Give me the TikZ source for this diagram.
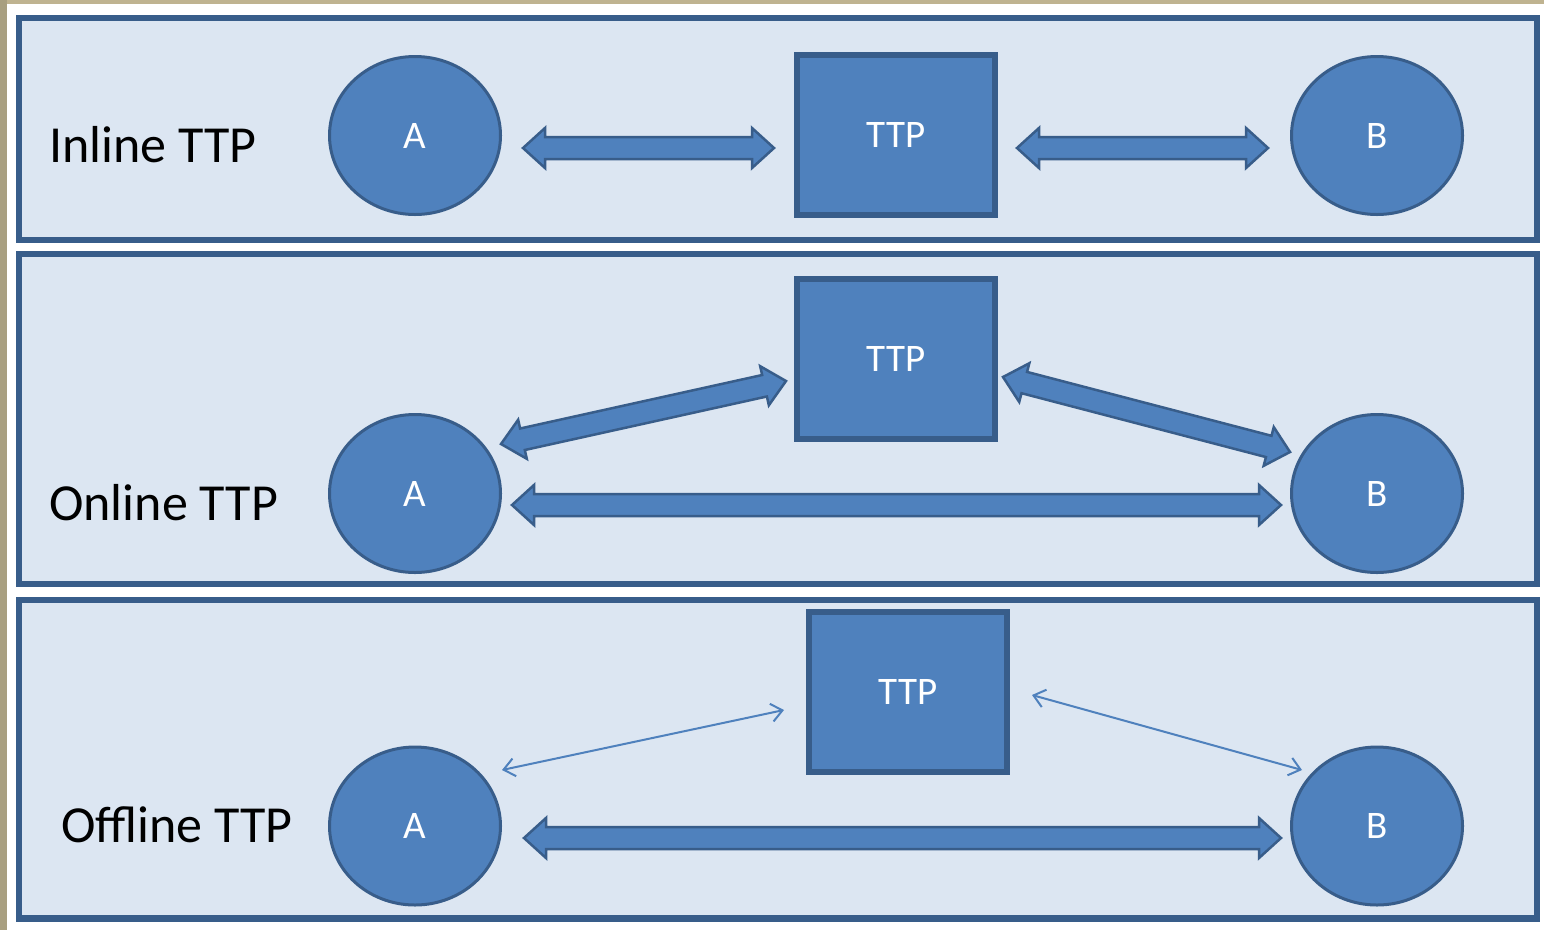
\documentclass[tikz,border=0pt]{standalone}
\usepackage{fontspec}
\setmainfont{Carlito}
\usetikzlibrary{shapes.geometric,calc,arrows.meta}
\definecolor{panelfill}{HTML}{DCE6F2}
\definecolor{bdr}{HTML}{385D8A}
\definecolor{shp}{HTML}{4F81BD}
\definecolor{tantop}{HTML}{BFB390}
\definecolor{tanleft}{HTML}{A89F80}
\tikzset{
  panel/.style={draw=bdr, fill=panelfill, line width=6.5pt},
  circ/.style={ellipse, draw=bdr, fill=shp, line width=3pt, minimum width=171pt,
    minimum height=158pt, inner sep=0pt, text=white, font=\fontsize{39}{46}\selectfont},
  ttpbox/.style={rectangle, draw=bdr, fill=shp, line width=6pt, minimum width=198pt,
    minimum height=160pt, inner sep=0pt, text=white, font=\fontsize{39}{46}\selectfont},
  rowlabel/.style={anchor=base west, inner sep=0pt, text=black, font=\fontsize{52}{60}\selectfont},
  blockarrow/.style={draw=bdr, fill=shp, line width=2.5pt, line join=miter,
    to path={let \p1=(\tikztostart), \p2=(\tikztotarget),
      \n1={atan2(\y2-\y1,\x2-\x1)} in
      -- ($(\p1)+(\n1:22pt)+({\n1+90}:20pt)$)
      -- ($(\p1)+(\n1:22pt)+({\n1+90}:11pt)$)
      -- ($(\p2)+({\n1+180}:22pt)+({\n1+90}:11pt)$)
      -- ($(\p2)+({\n1+180}:22pt)+({\n1+90}:20pt)$)
      -- (\p2)
      -- ($(\p2)+({\n1+180}:22pt)+({\n1-90}:20pt)$)
      -- ($(\p2)+({\n1+180}:22pt)+({\n1-90}:11pt)$)
      -- ($(\p1)+(\n1:22pt)+({\n1-90}:11pt)$)
      -- ($(\p1)+(\n1:22pt)+({\n1-90}:20pt)$)
      -- cycle}},
  thinarrow/.style={draw=shp, line width=2pt,
    {Straight Barb[length=11pt,width=18pt,line width=2pt]}-{Straight Barb[length=11pt,width=18pt,line width=2pt]}}
}
\begin{document}
\begin{tikzpicture}[x=1pt,y=-1pt]
\useasboundingbox (0,0) rectangle (1544,930);
\fill[white] (0,0) rectangle (1544,930);
\fill[tantop] (0,0) rectangle (1544,3.5);
\fill[tanleft] (0,0) rectangle (7,930);

% panels
\draw[panel] (19,18) rectangle (1537,240);
\draw[panel] (19,254) rectangle (1537,584);
\draw[panel] (19,600) rectangle (1537,918.5);

% row labels
\node[rowlabel] (l1) at (49,162) {Inline TTP};
\node[rowlabel] (l2) at (49,520) {Online TTP};
\node[rowlabel] (l3) at (61,842) {Offline TTP};

% panel 1
\node[circ] (A1) at (415,135.5) {A};
\node[circ] (B1) at (1377,135.5) {B};
\node[ttpbox] (T1) at (896,135) {TTP};
\coordinate (p1a) at (523,148);
\coordinate (p1b) at (774,148);
\coordinate (p1c) at (1017,148);
\coordinate (p1d) at (1268,148);
\draw[blockarrow] (p1a) to (p1b);
\draw[blockarrow] (p1c) to (p1d);

% panel 2
\node[circ] (A2) at (415,493.5) {A};
\node[circ] (B2) at (1377,493.5) {B};
\node[ttpbox] (T2) at (896,358.5) {TTP};
\coordinate (p2a) at (501,444);
\coordinate (p2b) at (786,381);
\coordinate (p2c) at (1003,377);
\coordinate (p2d) at (1290,452);
\coordinate (p2e) at (512,505);
\coordinate (p2f) at (1281,505);
\draw[blockarrow] (p2a) to (p2b);
\draw[blockarrow] (p2c) to (p2d);
\draw[blockarrow] (p2e) to (p2f);

% panel 3
\node[circ] (A3) at (415,826) {A};
\node[circ] (B3) at (1377,826) {B};
\node[ttpbox] (T3) at (908,691.5) {TTP};
\coordinate (p3a) at (502,770);
\coordinate (p3b) at (784,710);
\coordinate (p3c) at (1032,695);
\coordinate (p3d) at (1302,770);
\coordinate (p3e) at (524,838);
\coordinate (p3f) at (1281,838);
\draw[thinarrow] (p3a) -- (p3b);
\draw[thinarrow] (p3c) -- (p3d);
\draw[blockarrow] (p3e) to (p3f);
\end{tikzpicture}
\end{document}
